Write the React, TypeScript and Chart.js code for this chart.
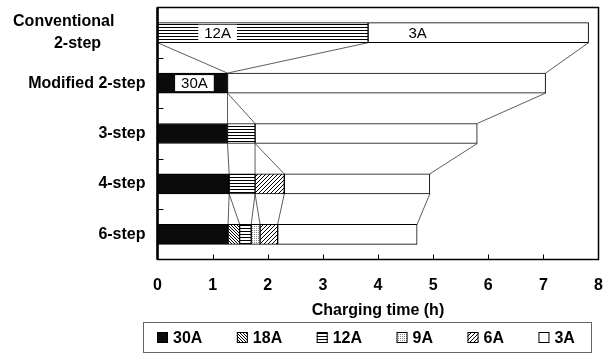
import { useEffect, useRef } from "react";
import { Chart, registerables } from "chart.js";

Chart.register(...registerables);

// Charging schedules (rows) and the time spent at each current (hours).
const schedules: (string | string[])[] = [
  ["Conventional", "2-step"],
  "Modified 2-step",
  "3-step",
  "4-step",
  "6-step",
];
const currents = ["30A", "18A", "12A", "9A", "6A", "3A"];
const hours30A = [null, 1.27, 1.27, 1.3, 1.28];
const hours18A = [null, null, null, null, 0.21];
const hours12A = [3.82, null, 0.5, 0.47, 0.21];
const hours9A = [null, null, null, null, 0.16];
const hours6A = [null, null, null, 0.53, 0.32];
const hours3A = [4.0, 5.77, 4.03, 2.64, 2.53];
const xTickValues = [0, 1, 2, 3, 4, 5, 6, 7, 8];

// Guide lines between neighbouring bars: [end of step in upper bar, end of step in lower bar]
// (null = start of the bar)
const guideLinks: [string | null, string][][] = [
  [[null, "30A"], ["12A", "30A"], ["3A", "3A"]],
  [["30A", "30A"], ["30A", "12A"], ["3A", "3A"]],
  [["30A", "30A"], ["12A", "12A"], ["12A", "6A"], ["3A", "3A"]],
  [["30A", "30A"], ["30A", "18A"], ["12A", "12A"], ["12A", "9A"], ["6A", "6A"], ["3A", "3A"]],
];

// Text written on the bars: row, position (h)
const barTexts = [
  { text: "12A", row: 0, at: 1.09, boxed: true },
  { text: "3A", row: 0, at: 4.72, boxed: false },
  { text: "30A", row: 1, at: 0.67, boxed: true },
];

const seriesHours = [hours30A, hours18A, hours12A, hours9A, hours6A, hours3A];
const fills = ["solid", "back", "hlines", "dots", "fwd", "white"];

function makeFill(kind: string): string | CanvasPattern {
  if (kind === "solid") return "#0b0b0b";
  if (kind === "white") return "#ffffff";
  const c = document.createElement("canvas");
  let w = 4;
  let h = 4;
  if (kind === "hlines") { w = 4; h = 3; }
  if (kind === "back") { w = 3; h = 3; }
  if (kind === "dots") { w = 2; h = 2; }
  c.width = w;
  c.height = h;
  const g = c.getContext("2d")!;
  g.fillStyle = "#fff";
  g.fillRect(0, 0, w, h);
  g.fillStyle = "#000";
  if (kind === "hlines") g.fillRect(0, 0, w, 1);
  if (kind === "back") for (let i = 0; i < 3; i++) g.fillRect(i, i, 1, 1);
  if (kind === "fwd") for (let i = 0; i < 4; i++) g.fillRect(i, 3 - i, 1, 1);
  if (kind === "dots") { g.fillStyle = "#8a8a8a"; g.fillRect(0, 0, 1, 1); }
  return g.createPattern(c, "repeat")!;
}

function stepEnd(row: number, current: string | null): number {
  if (current === null) return 0;
  const idx = currents.indexOf(current);
  let sum = 0;
  for (let k = 0; k <= idx; k++) sum += seriesHours[k][row] ?? 0;
  return sum;
}

const FONT = "'Liberation Sans', Arial, Helvetica, sans-serif";

export default function App() {
  const ref = useRef<HTMLCanvasElement>(null);

  useEffect(() => {
    const canvas = ref.current!;
    const patterns = fills.map(makeFill);

    const decorations = {
      id: "decorations",
      afterDatasetsDraw(chart: any) {
        const { ctx, chartArea: a, scales } = chart;
        const xs = scales.x;
        const ys = scales.y;
        const half = 10;
        ctx.save();
        // guide lines
        ctx.strokeStyle = "#333";
        ctx.lineWidth = 0.8;
        guideLinks.forEach((links, row) => {
          const yTop = ys.getPixelForValue(row) + half;
          const yBot = ys.getPixelForValue(row + 1) - half;
          links.forEach(([from, to]) => {
            ctx.beginPath();
            ctx.moveTo(xs.getPixelForValue(stepEnd(row, from)), yTop);
            ctx.lineTo(xs.getPixelForValue(stepEnd(row + 1, to)), yBot);
            ctx.stroke();
          });
        });
        // labels inside bars
        ctx.font = `15px ${FONT}`;
        ctx.textAlign = "center";
        ctx.textBaseline = "middle";
        barTexts.forEach((t) => {
          const x = xs.getPixelForValue(t.at);
          const y = ys.getPixelForValue(t.row);
          const w = ctx.measureText(t.text).width;
          if (t.boxed) {
            ctx.fillStyle = "#fff";
            ctx.fillRect(x - w / 2 - 6, y - 8, w + 12, 16);
          }
          ctx.fillStyle = "#000";
          ctx.fillText(t.text, x, y + 1);
        });
        // frame
        ctx.strokeStyle = "#000";
        ctx.lineWidth = 1.5;
        ctx.strokeRect(a.left, a.top, a.right - a.left, a.bottom - a.top);
        ctx.lineWidth = 2.5;
        ctx.beginPath();
        ctx.moveTo(a.left, a.top);
        ctx.lineTo(a.left, a.bottom);
        ctx.stroke();
        // inward tick marks
        ctx.lineWidth = 1;
        xTickValues.slice(1, -1).forEach((v) => {
          const x = Math.round(xs.getPixelForValue(v)) + 0.5;
          ctx.beginPath();
          ctx.moveTo(x, a.bottom);
          ctx.lineTo(x, a.bottom - 5);
          ctx.stroke();
        });
        for (let i = 0; i < schedules.length - 1; i++) {
          const y = Math.round(ys.getPixelForValue(i + 0.5)) + 0.5;
          ctx.beginPath();
          ctx.moveTo(a.left, y);
          ctx.lineTo(a.left + 6, y);
          ctx.stroke();
        }
        ctx.restore();
      },
      afterDraw(chart: any) {
        const { ctx } = chart;
        ctx.save();
        // legend
        const box = { left: 143.5, top: 322.5, right: 591.5, bottom: 352.5 };
        ctx.strokeStyle = "#666";
        ctx.lineWidth = 1;
        ctx.strokeRect(box.left, box.top, box.right - box.left, box.bottom - box.top);
        ctx.font = `bold 16px ${FONT}`;
        ctx.textBaseline = "middle";
        ctx.textAlign = "left";
        const cy = (box.top + box.bottom) / 2;
        let x = 157;
        currents.forEach((c, i) => {
          ctx.fillStyle = patterns[i];
          ctx.fillRect(x, cy - 5.5, 11, 11);
          ctx.strokeStyle = "#000";
          ctx.strokeRect(x + 0.5, cy - 5, 10, 10);
          ctx.fillStyle = "#000";
          ctx.fillText(c, x + 16, cy + 1);
          x += 16 + ctx.measureText(c).width + 34.5;
        });
        ctx.restore();
      },
    };

    const chart = new Chart(canvas, {
      type: "bar",
      data: {
        labels: schedules as any,
        datasets: currents.map((c, i) => ({
          label: c,
          data: seriesHours[i] as any,
          backgroundColor: patterns[i] as any,
          borderColor: "#000",
          borderWidth: 1,
          borderSkipped: false,
          barThickness: 20,
        })),
      },
      options: {
        indexAxis: "y",
        responsive: false,
        animation: false,
        events: [],
        layout: { padding: { top: 7.5, bottom: 38.5, left: 0, right: 0 } },
        plugins: { legend: { display: false }, tooltip: { enabled: false } },
        scales: {
          x: {
            stacked: true,
            min: 0,
            max: 8,
            grid: { display: false, drawTicks: false },
            border: { display: false },
            ticks: {
              stepSize: 1,
              padding: 16,
              color: "#000",
              font: { family: FONT, size: 16, weight: "bold" },
            },
            title: {
              display: true,
              text: "Charging time (h)",
              color: "#000",
              padding: { top: 0, bottom: 0 },
              font: { family: FONT, size: 16, weight: "bold" },
            },
            afterFit(scale: any) {
              scale.height = 61;
              scale.paddingLeft = 0;
              scale.paddingRight = 4.5;
            },
          },
          y: {
            stacked: true,
            grid: { display: false, drawTicks: false },
            border: { display: false },
            ticks: {
              autoSkip: false,
              padding: 12,
              color: "#000",
              font: { family: FONT, size: 16, weight: "bold", lineHeight: 1.4 },
              callback: (_v: any, i: number) =>
                i === 0
                  ? ["Conventional" + " ".repeat(7), "2-step" + " ".repeat(10)]
                  : (schedules[i] as string),
            },
            afterFit(scale: any) {
              scale.width = 157.5;
              scale.paddingTop = 0;
              scale.paddingBottom = 0;
            },
          },
        },
      },
      plugins: [decorations],
    });
    return () => chart.destroy();
  }, []);

  return (
    <div style={{ position: "fixed", left: 0, top: 0, width: 603, height: 359, background: "#fff" }}>
      <canvas ref={ref} width={603} height={359} />
    </div>
  );
}
